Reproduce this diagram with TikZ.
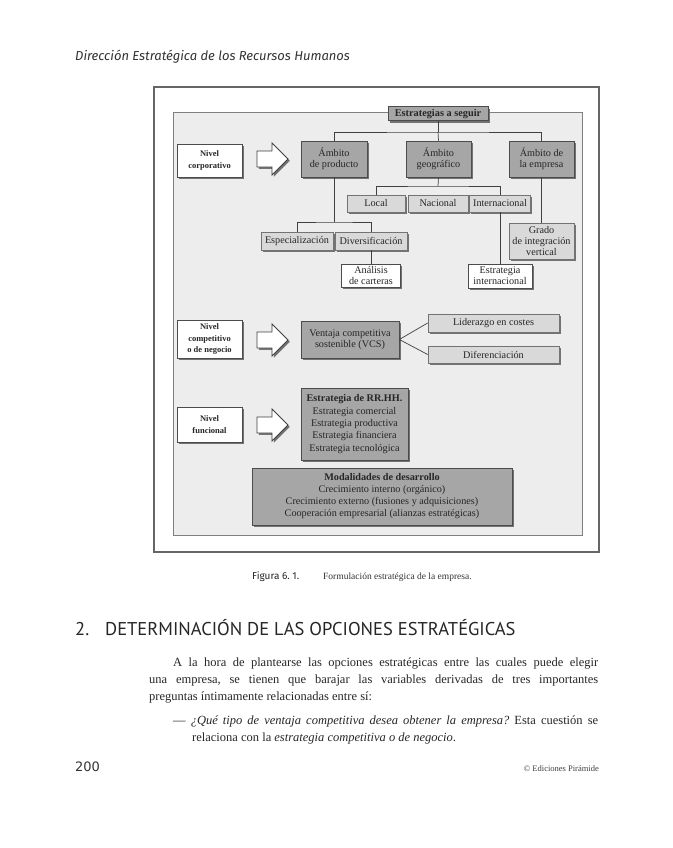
\documentclass[tikz,border=0pt]{standalone}
\usepackage{fontspec}
\usepackage{graphicx}
\setmainfont{Liberation Serif}
\newfontfamily\hdfont{Fira Sans}
\newfontfamily\headingfont{PT Sans}
\newfontfamily\numfont{DejaVu Sans}
\usetikzlibrary{shadows}
\frenchspacing
\begin{document}
\begin{tikzpicture}[x=1pt,y=-1pt,
  shad/.style={drop shadow={shadow xshift=1.8pt, shadow yshift=-1.8pt, fill=black!55, opacity=1}},
  box/.style={draw=black!70, line width=0.7pt, inner sep=1pt, align=center,
    font=\fontsize{10.2}{11}\selectfont, text=black!85, shad},
  darkbox/.style={box, fill=black!35},
  lightbox/.style={box, fill=black!15, draw=black!55},
  whitebox/.style={box, fill=white},
  levelbox/.style={whitebox, font=\bfseries\fontsize{8.5}{11.5}\selectfont},
  conn/.style={draw=black!75, line width=0.7pt},
  bigarrow/.style={draw=black!75, fill=white, line width=0.9pt, line join=miter, shad},
  bodytext/.style={anchor=base west, inner sep=0pt, font=\fontsize{12.5}{17}\selectfont, text=black!85}
]
\useasboundingbox[fill=white] (0,0) rectangle (672,848);

% frames
\draw[draw=black!60, line width=1.2pt, fill=white] (154,87) rectangle (599,552);
\draw[draw=black!50, line width=1pt, fill=black!7] (173,113) rectangle (582,535);

% corporate level
\node[darkbox, minimum width=100pt, minimum height=14pt, line width=1pt,
  font=\bfseries\fontsize{10.3}{11}\selectfont] (top) at (438,114) {Estrategias a seguir};
\node[darkbox, minimum width=66pt, minimum height=36pt] (prod) at (334,159) {Ámbito\\de producto};
\node[darkbox, minimum width=65pt, minimum height=36pt] (geo) at (438.5,159) {Ámbito\\geográfico};
\node[darkbox, minimum width=65pt, minimum height=36pt] (emp) at (541.5,159) {Ámbito de\\la empresa};
\node[levelbox, minimum width=65pt, minimum height=33pt] (ncorp) at (209.5,160.5) {Nivel\\corporativo};
\path[bigarrow] (257,151) -- (272,151) -- (272,143) -- (288,159) -- (272,175) -- (272,167) -- (257,167) -- cycle;

\coordinate (j1) at (438,132);
\draw[conn] (top.south) -- (j1);
\draw[conn] (prod.north) |- (j1) -| (emp.north);
\draw[conn] (j1) -- (geo.north);

\node[lightbox, minimum width=58pt, minimum height=17pt] (loc) at (376,203.5) {Local};
\node[lightbox, minimum width=60pt, minimum height=17pt] (nac) at (438,203.5) {Nacional};
\node[lightbox, minimum width=61pt, minimum height=17pt] (int) at (500,203.5) {Internacional};
\coordinate (j2) at (438,186);
\draw[conn] (geo.south) -- (j2);
\draw[conn] (loc.north) |- (j2) -| (int.north);

\node[lightbox, minimum width=72pt, minimum height=18pt] (esp) at (297,241) {Especialización};
\node[lightbox, minimum width=72pt, minimum height=18pt] (div) at (371,241) {Diversificación};
\coordinate (j3) at (334,222);
\draw[conn] (prod.south) -- (j3);
\draw[conn] (esp.north) |- (j3) -| (div.north);

\node[whitebox, minimum width=59pt, minimum height=23pt] (ana) at (371,275.5) {Análisis\\de carteras};
\draw[conn] (div.south) -- (ana.north);

\node[whitebox, minimum width=64pt, minimum height=24pt] (eint) at (500,276) {Estrategia\\internacional};
\draw[conn] (int.south) -- (eint.north);

\node[lightbox, minimum width=65pt, minimum height=36pt] (grado) at (541.5,241) {Grado\\de integración\\vertical};
\draw[conn] (emp.south) -- (grado.north);

% competitive level
\node[levelbox, minimum width=65pt, minimum height=38pt] (ncomp) at (209.5,339) {Nivel\\competitivo\\o de negocio};
\path[bigarrow] (257,332) -- (272,332) -- (272,324) -- (288,340) -- (272,356) -- (272,348) -- (257,348) -- cycle;
\node[darkbox, minimum width=98pt, minimum height=37pt] (vcs) at (350,339.5) {Ventaja competitiva\\sostenible (VCS)};
\node[lightbox, minimum width=131pt, minimum height=18pt] (lid) at (493.5,323) {Liderazgo en costes};
\node[lightbox, minimum width=131pt, minimum height=17pt] (dif) at (493.5,354.5) {Diferenciación};
\draw[conn] (vcs.east) -- (lid.west);
\draw[conn] (vcs.east) -- (dif.west);

% functional level
\node[levelbox, minimum width=65pt, minimum height=35pt] (nfun) at (209.5,424.5) {Nivel\\funcional};
\path[bigarrow] (257,417) -- (272,417) -- (272,409) -- (288,425) -- (272,441) -- (272,433) -- (257,433) -- cycle;
\node[darkbox, minimum width=107pt, minimum height=72pt, font=\fontsize{10.2}{12.3}\selectfont] (rrhh) at (354.5,424)
  {\textbf{Estrategia de RR.HH.}\\Estrategia comercial\\Estrategia productiva\\Estrategia financiera\\Estrategia tecnológica};
\node[darkbox, minimum width=260pt, minimum height=57pt, font=\fontsize{10.2}{12}\selectfont] (modal) at (382,496.5)
  {\textbf{Modalidades de desarrollo}\\Crecimiento interno (orgánico)\\Crecimiento externo (fusiones y adquisiciones)\\Cooperación empresarial (alianzas estratégicas)};

% page texts
\node[anchor=base west, inner sep=0pt, font=\hdfont\itshape\fontsize{13}{15}\selectfont, text=black!80] (hdr) at (75,61) {Dirección Estratégica de los Recursos Humanos};

\node[anchor=base west, inner sep=0pt, font=\hdfont\fontsize{10}{12}\selectfont, text=black!85] (figlab) at (252,579) {Figura 6. 1.};
\node[anchor=base west, inner sep=0pt, font=\fontsize{9.5}{12}\selectfont, text=black!80] (figcap) at (323,579) {Formulación estratégica de la empresa.};

\node[anchor=base west, inner sep=0pt, font=\headingfont\fontsize{18.5}{20}\selectfont, text=black!85] (h2num) at (75,635) {2.};
\node[anchor=base west, inner sep=0pt, font=\headingfont\fontsize{18.5}{20}\selectfont, text=black!85] (h2) at (105,635) {DETERMINACIÓN DE LAS OPCIONES ESTRATÉGICAS};

\node[bodytext] (p1) at (173,666) {\hbox to 425pt{A la hora de plantearse las opciones estratégicas entre las cuales puede elegir}};
\node[bodytext] (p2) at (149,683) {\hbox to 449pt{una empresa, se tienen que barajar las variables derivadas de tres importantes}};
\node[bodytext] (p3) at (149,700) {preguntas íntimamente relacionadas entre sí:};
\node[bodytext] (q1) at (173,724) {\hbox to 425pt{— \textit{¿Qué tipo de ventaja competitiva desea obtener la empresa?} Esta cuestión se}};
\node[bodytext] (q2) at (192,741) {relaciona con la \textit{estrategia competitiva o de negocio}.};

\node[anchor=base west, inner sep=0pt, font=\numfont\fontsize{13}{15}\selectfont, text=black!80] (pg) at (75,771) {200};
\node[anchor=base east, inner sep=0pt, font=\fontsize{8.5}{10}\selectfont, text=black!75] (copy) at (599,771) {© Ediciones Pirámide};
\end{tikzpicture}
\end{document}
